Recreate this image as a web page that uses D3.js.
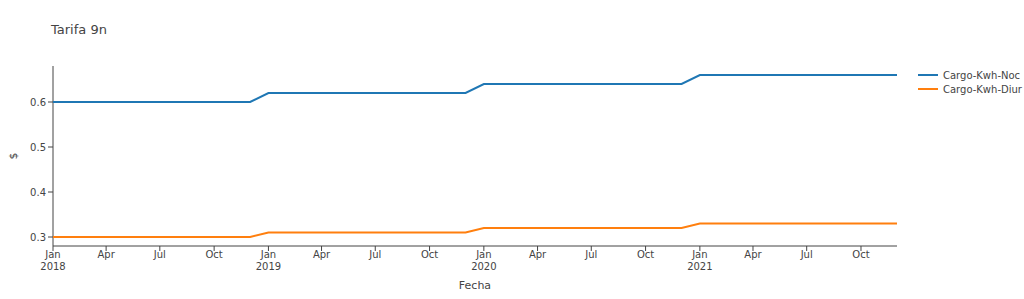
<!DOCTYPE html>
<html><head><meta charset="utf-8">
<script src="https://cdn.jsdelivr.net/npm/d3@7"></script>
<style>body{margin:0;background:#fff}svg{display:block}text{font-family:"DejaVu Sans",Verdana,sans-serif;fill:#444}</style>
</head><body><svg id="c" width="1024" height="299"></svg>
<script>
const months = [];
for (let y = 2018; y <= 2021; y++) for (let m = 0; m < 12; m++) months.push(new Date(y, m, 1));
const nocValues = [
 0.60,0.60,0.60,0.60,0.60,0.60,0.60,0.60,0.60,0.60,0.60,0.60,
 0.62,0.62,0.62,0.62,0.62,0.62,0.62,0.62,0.62,0.62,0.62,0.62,
 0.64,0.64,0.64,0.64,0.64,0.64,0.64,0.64,0.64,0.64,0.64,0.64,
 0.66,0.66,0.66,0.66,0.66,0.66,0.66,0.66,0.66,0.66,0.66,0.66];
const diurValues = [
 0.30,0.30,0.30,0.30,0.30,0.30,0.30,0.30,0.30,0.30,0.30,0.30,
 0.31,0.31,0.31,0.31,0.31,0.31,0.31,0.31,0.31,0.31,0.31,0.31,
 0.32,0.32,0.32,0.32,0.32,0.32,0.32,0.32,0.32,0.32,0.32,0.32,
 0.33,0.33,0.33,0.33,0.33,0.33,0.33,0.33,0.33,0.33,0.33,0.33];
const seriesNames = ["Cargo-Kwh-Noc","Cargo-Kwh-Diur"];
const yTicks = [0.3,0.4,0.5,0.6];
const title = "Tarifa 9n", xTitle = "Fecha", yTitle = "$";

const colors = ["#1f77b4","#ff7f0e"];
const svg = d3.select("#c");
const L = 53, R = 897, T = 66, B = 246;
const x = d3.scaleTime().domain([months[0], months[months.length-1]]).range([L, R]);
const y = d3.scaleLinear().domain([0.28, 0.68]).range([B, T]);

svg.append("text").attr("x", 51).attr("y", 34).attr("font-size", 13).text(title);

// y axis
const ya = svg.append("g");
ya.append("line").attr("x1", L).attr("x2", L).attr("y1", T).attr("y2", B).attr("stroke", "#444").attr("stroke-width", 1);
yTicks.forEach(v => {
  ya.append("line").attr("x1", L-5).attr("x2", L).attr("y1", y(v)).attr("y2", y(v)).attr("stroke", "#444");
  ya.append("text").attr("x", L-7).attr("y", y(v)).attr("dy", "0.35em").attr("text-anchor", "end").attr("font-size", 10).text(v.toFixed(1));
});
// x axis
const xa = svg.append("g");
xa.append("line").attr("x1", L).attr("x2", R).attr("y1", B).attr("y2", B).attr("stroke", "#444");
const xt = x.ticks(d3.timeMonth.every(3));
const mfmt = d3.timeFormat("%b");
xt.forEach(d => {
  xa.append("line").attr("x1", x(d)).attr("x2", x(d)).attr("y1", B).attr("y2", B+5).attr("stroke", "#444");
  xa.append("text").attr("x", x(d)).attr("y", 258).attr("text-anchor", "middle").attr("font-size", 10).text(mfmt(d));
  if (d.getMonth() === 0) xa.append("text").attr("x", x(d)).attr("y", 270).attr("text-anchor", "middle").attr("font-size", 10).text(d.getFullYear());
});

svg.append("text").attr("x", (L+R)/2).attr("y", 289).attr("text-anchor", "middle").attr("font-size", 11).text(xTitle);
svg.append("text").attr("transform", `translate(17,${(T+B)/2}) rotate(-90)`).attr("text-anchor", "middle").attr("font-size", 11).text(yTitle);

const line = d3.line().x((d,i) => x(months[i])).y(d => y(d));
[nocValues, diurValues].forEach((vals, k) => {
  svg.append("path").datum(vals).attr("d", line).attr("fill", "none").attr("stroke", colors[k]).attr("stroke-width", 2);
});

// legend
seriesNames.forEach((n, k) => {
  const ly = 75 + k*14;
  svg.append("line").attr("x1", 918).attr("x2", 938).attr("y1", ly).attr("y2", ly).attr("stroke", colors[k]).attr("stroke-width", 2);
  svg.append("text").attr("x", 943).attr("y", ly).attr("dy", "0.35em").attr("font-size", 10).text(n);
});
</script></body></html>
